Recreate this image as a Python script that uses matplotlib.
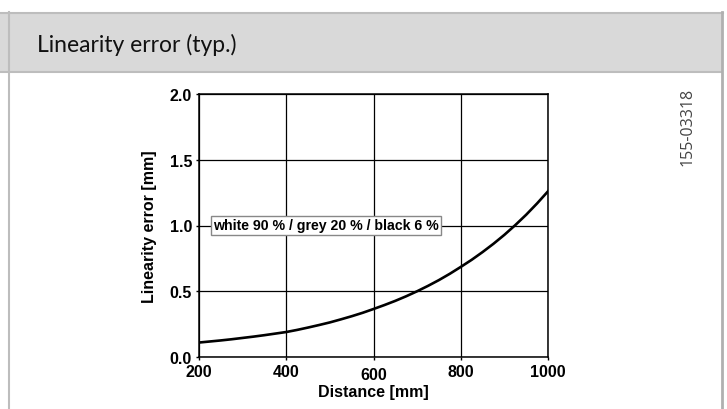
import numpy as np
import matplotlib.pyplot as plt
from matplotlib.lines import Line2D
from matplotlib.patches import Rectangle
import matplotlib.transforms as mtransforms

# values (every 25 mm)
distance_mm = [200, 225, 250, 275, 300, 325, 350, 375, 400,
               425, 450, 475, 500, 525, 550, 575, 600,
               625, 650, 675, 700, 725, 750, 775, 800,
               825, 850, 875, 900, 925, 950, 975, 1000]
lin_error_mm = [0.110, 0.118, 0.126, 0.135, 0.145, 0.155, 0.166, 0.178, 0.190,
                0.206, 0.224, 0.243, 0.263, 0.286, 0.310, 0.336, 0.365,
                0.395, 0.427, 0.462, 0.500, 0.541, 0.585, 0.633, 0.685,
                0.739, 0.798, 0.861, 0.929, 1.003, 1.082, 1.168, 1.260]

x_ticks = [200, 400, 600, 800, 1000]
y_ticks = [0.0, 0.5, 1.0, 1.5, 2.0]
y_tick_labels = ["0.0", "0.5", "1.0", "1.5", "2.0"]

title = "Linearity error (typ.)"
curve_label = "white 90 % / grey 20 % / black 6 %"
drawing_no = "155-03318"

W, H = 727, 410
fig = plt.figure(figsize=(W / 100, H / 100), dpi=100)


def fx(px):
    return px / W


def fy(py):
    return 1 - py / H


# =========================
# frame / header band
# =========================
fig.add_artist(Rectangle((0, fy(73)), fx(722), fy(13) - fy(73),
                         transform=fig.transFigure, facecolor="#d9d9d9",
                         edgecolor="none", zorder=0))
border = "#bdbdbd"
fig.add_artist(Line2D([0, fx(723)], [fy(13.5), fy(13.5)], transform=fig.transFigure,
                      color=border, lw=1.5))
fig.add_artist(Line2D([0, fx(722)], [fy(72.5), fy(72.5)], transform=fig.transFigure,
                      color=border, lw=1.5))
fig.add_artist(Line2D([fx(9), fx(9)], [fy(13), 0], transform=fig.transFigure,
                      color=border, lw=1.5))
fig.add_artist(Line2D([fx(722), fx(722)], [fy(13), 0], transform=fig.transFigure,
                      color="#b0b0b0", lw=2.0))

fig.text(fx(37), fy(45), title, fontsize=16.5, family="Lato",
         va="center", ha="left", color="#111111")
fig.text(fx(688), fy(127), drawing_no, fontsize=11.5, family="Open Sans",
         rotation=90, va="center", ha="center", color="#444444")

# =========================
# chart
# =========================
ax = fig.add_axes([fx(199), fy(358), fx(548) - fx(199), fy(95) - fy(358)])

ax.plot(distance_mm, lin_error_mm, color="black", lw=1.9, zorder=3,
        solid_joinstyle="round")

ax.set_xlim(200, 1000)
ax.set_ylim(0, 2.0)
ax.set_xticks(x_ticks)
ax.set_yticks(y_ticks)
ax.set_yticklabels(y_tick_labels)
ax.grid(True, color="black", lw=0.9)
for s in ax.spines.values():
    s.set_linewidth(1.1)

lab_font = dict(family="Liberation Sans", fontsize=11.5, fontweight="bold")
ax.tick_params(direction="out", length=2, width=1, pad=3)
for lab in ax.get_xticklabels() + ax.get_yticklabels():
    lab.set_fontproperties("Liberation Sans")
    lab.set_fontsize(11.5)
    lab.set_fontweight("bold")
# the 600 label sits a little lower in the original
lab600 = ax.get_xticklabels()[2]
lab600.set_transform(lab600.get_transform() +
                     mtransforms.ScaledTranslation(0, -3 / 100, fig.dpi_scale_trans))

ax.set_xlabel("Distance [mm]", labelpad=1.5, **lab_font)
ax.set_ylabel("Linearity error [mm]", labelpad=9, **lab_font)

ax.text(232, 1.0, curve_label, family="Liberation Sans", fontsize=10.2,
        fontweight="bold", ha="left", va="center", zorder=4,
        bbox=dict(boxstyle="square,pad=0.15", facecolor="white",
                  edgecolor="#888888", lw=1.0))

fig.savefig("out.png", dpi=100)
